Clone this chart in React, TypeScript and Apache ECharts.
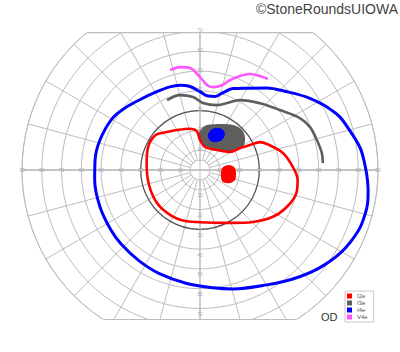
import React, { useEffect, useRef } from 'react';
import * as echarts from 'echarts';

// Goldmann-style visual field, right eye (OD). Points are [eccentricity (deg), meridian angle (deg, ccw from right)].
const HORIZ_RING_LABELS = [10, 20, 30, 40, 50, 60, 70, 80, 90];
const VERT_RING_LABELS = [10, 20, 30, 40, 50, 60, 70];
const REFERENCE_RINGS = [5, 30];
const FIELD_MAX = 90;
const FIELD_TOP = 69.5;
const FIELD_BOTTOM = 75.6;

const I2E_LINE = [
  [47.0, 1.8], [42.8, 11.6], [36.3, 21.2], [33.4, 25.0], [28.2, 26.5], [23.1, 28.8], [17.7, 30.9],
  [13.3, 49.6], [11.9, 77.8], [15.2, 90], [19.8, 95], [21.5, 104], [23.3, 119.9], [25.4, 131],
  [28.6, 142.0], [28.7, 156.2], [27.2, 172.6], [26.8, 190.9], [27.2, 209.9], [27.4, 227.2],
  [27.1, 248.2], [26.4, 270], [31.5, 301.9], [37.5, 315.5], [43.8, 327.3], [47.7, 336.9],
  [50.1, 346.7], [49.6, 354.2], [47.0, 1.8],
];
const I2E_BLIND_SPOT = [
  [14.9, 9.8], [17.7, 3.3], [18.3, 353.7], [18.4, 344.1], [16.5, 336.5], [13.1, 332.3], [11.0, 344.2], [11.2, 5.2],
];
const I3E_LINE = [
  [39.1, 115.2], [39.2, 104.9], [37.1, 95.4], [33.9, 87.5], [33.9, 75.3], [37.5, 66.1], [40.7, 60.3],
  [45.4, 48.1], [50.5, 36.9], [56.9, 27.5], [59.7, 21.3], [61.0, 14.4], [62.2, 7.9], [62.2, 3.3],
];
const I3E_SCOTOMA = [
  [21.8, 86.0], [23.55, 77.6], [25.8, 64.5], [28.2, 53.7], [29.3, 46.4], [29.0, 40.1], [27.4, 33.7],
  [24.6, 28.2], [21.1, 27.8], [15.9, 37.3], [13.0, 54.4], [12.4, 78.2], [14.7, 90], [18.7, 91.5],
];
const I4E_LINE = [
  [83.0, 3.5], [81.6, 8.2], [77.6, 16.3], [75.6, 20.8], [72.8, 24.8], [70.5, 27.9], [65.4, 34.3],
  [59.2, 41.9], [53.5, 50.8], [47.7, 60.2], [44.4, 68.0], [40.8, 73.4], [38.0, 78.4], [37.6, 83.8],
  [39.6, 90], [42.5, 96.8], [44.0, 103.2], [44.7, 110.0], [45.2, 118.9], [46.8, 130.6], [49.2, 140.4],
  [51.5, 150.0], [52.8, 163.3], [53.3, 174.6], [53.5, 185.4], [53.9, 200.3], [54.3, 213.7],
  [54.7, 223.0], [55.3, 236.0], [56.3, 248.6], [57.8, 263.4], [59.9, 276.3], [62.4, 285.5],
  [67.2, 300.2], [72.4, 310.4], [78.0, 320.5], [82.8, 330.2], [85.8, 339.2], [86.4, 344.8],
  [86.4, 348.9], [85.6, 353.2], [84.8, 356.6], [84.2, 359.0], [83.0, 3.5],
];
const I4E_SCOTOMA = [
  [22.5, 70.3], [23.5, 61.8], [22.1, 55.3], [18.8, 53.9], [15.6, 65.0], [17.2, 76.4], [20.3, 75.6],
];
const V4E_LINE = [
  [52.7, 106.7], [53.0, 101.0], [51.8, 95.6], [47.0, 90], [43.1, 85.3], [42.4, 81.1], [44.3, 75.5],
  [47.9, 71.5], [51.6, 67.0], [54.7, 62.5], [56.3, 57.5], [57.4, 53.3],
];
const LEGEND_NAMES = ['I2e', 'I3e', 'I4e', 'V4e'];

const CX = 200;
const CY = 170;
const R = 178;
const GRID = '#bdbdbd';
const RED = '#ff0000';
const GRAY = '#5e5e5e';
const BLUE = '#0000ff';
const MAGENTA = '#ff55ff';

const deg = (a: number) => (a * 180) / Math.PI;

function blobSeries(name: string, pts: number[][], color: string) {
  return {
    name,
    type: 'custom',
    coordinateSystem: 'polar',
    silent: true,
    z: 3,
    itemStyle: { color },
    data: [pts[0]],
    renderItem: (_p: any, api: any) => ({
      type: 'polygon',
      shape: { points: pts.map((p) => api.coord(p)), smooth: 0.35 },
      style: { fill: color },
    }),
  };
}

function lineSeries(name: string, data: number[][], color: string, width: number) {
  return {
    name,
    type: 'line',
    coordinateSystem: 'polar',
    data,
    symbol: 'none',
    showSymbol: false,
    smooth: 0.35,
    silent: true,
    z: 4,
    lineStyle: { color, width },
    itemStyle: { color },
  };
}

function gridLine(data: any[], color: string, width: number) {
  return {
    type: 'line',
    coordinateSystem: 'polar',
    data,
    symbol: 'none',
    showSymbol: false,
    silent: true,
    z: 2,
    lineStyle: { color, width },
  };
}

function labelSeries(data: number[][], offsetY: number) {
  return {
    type: 'scatter',
    coordinateSystem: 'polar',
    data,
    symbolSize: 0,
    silent: true,
    z: 5,
    itemStyle: { color: 'transparent' },
    label: {
      show: true,
      position: 'inside',
      offset: [0, offsetY],
      formatter: (p: any) => String(p.value[0]),
      fontSize: 5,
      color: '#9a9a9a',
      fontFamily: 'Liberation Sans, Arial, sans-serif',
    },
  };
}

export default function App() {
  const ref = useRef<HTMLDivElement>(null);
  useEffect(() => {
    if (!ref.current) return;
    const chart = echarts.init(ref.current, undefined, { renderer: 'svg' });
    const aTop = deg(Math.asin(FIELD_TOP / FIELD_MAX));
    const aBot = deg(Math.asin(FIELD_BOTTOM / FIELD_MAX));
    const yTop = CY - (R * FIELD_TOP) / FIELD_MAX;
    const yBot = CY + (R * FIELD_BOTTOM) / FIELD_MAX;

    chart.setOption({
      animation: false,
      backgroundColor: '#fff',
      title: [
        {
          text: '©StoneRoundsUIOWA',
          right: 2,
          top: 2,
          padding: 0,
          textStyle: { fontSize: 14, fontWeight: 'normal', color: '#444', fontFamily: 'Liberation Sans, Arial, sans-serif' },
        },
        {
          text: 'OD',
          left: 321,
          top: 311,
          padding: 0,
          textStyle: { fontSize: 11, fontWeight: 'normal', color: '#333', fontFamily: 'Liberation Sans, Arial, sans-serif' },
        },
      ],
      legend: {
        data: LEGEND_NAMES,
        orient: 'vertical',
        left: 345,
        top: 291,
        padding: [2, 6, 2, 2],
        itemGap: 1,
        itemWidth: 5,
        itemHeight: 5,
        icon: 'rect',
        selectedMode: false,
        borderColor: '#c8c8c8',
        borderWidth: 1,
        backgroundColor: '#fff',
        textStyle: { fontSize: 6, lineHeight: 6, color: '#555', fontFamily: 'Liberation Sans, Arial, sans-serif' },
      },
      polar: { center: [CX, CY], radius: R },
      angleAxis: {
        type: 'value',
        min: 0,
        max: 360,
        interval: 15,
        startAngle: 0,
        clockwise: false,
        axisLine: { show: true, lineStyle: { color: GRID, width: 1 } },
        axisTick: { show: false },
        axisLabel: { show: false },
        splitLine: { show: true, lineStyle: { color: GRID, width: 1 } },
      },
      radiusAxis: {
        type: 'value',
        min: 0,
        max: FIELD_MAX,
        interval: 10,
        axisLine: { show: false },
        axisTick: { show: false },
        axisLabel: { show: false },
        splitLine: { show: true, lineStyle: { color: GRID, width: 1 } },
      },
      graphic: [
        { type: 'rect', z: 1, shape: { x: 0, y: 0, width: 400, height: yTop }, style: { fill: '#fff' } },
        { type: 'rect', z: 1, shape: { x: 0, y: yBot, width: 400, height: 352 - yBot }, style: { fill: '#fff' } },
      ],
      series: [
        {
          type: 'custom',
          coordinateSystem: 'polar',
          silent: true,
          z: 2,
          data: REFERENCE_RINGS.map((r) => [r, 0]),
          renderItem: (params: any, api: any) => {
            const c = api.coord([0, 0]);
            const e = api.coord([api.value(0), 0]);
            const rad = Math.hypot(e[0] - c[0], e[1] - c[1]);
            const inner = params.dataIndex === 0;
            return {
              type: 'circle',
              shape: { cx: c[0], cy: c[1], r: rad },
              style: inner ? { fill: '#fff', stroke: GRID, lineWidth: 1 } : { fill: 'none', stroke: '#555', lineWidth: 1.2 },
            };
          },
        },
        gridLine([[FIELD_MAX, 0], [0, 0], [FIELD_MAX, 180]], '#c4c4c4', 2),
        gridLine([[FIELD_TOP, 90], [0, 0], [FIELD_BOTTOM, 270]], GRID, 1),
        gridLine([[FIELD_MAX, aTop], [FIELD_MAX, 180 - aTop]], GRID, 1.2),
        gridLine([[FIELD_MAX, 180 + aBot], [FIELD_MAX, 360 - aBot]], GRID, 1.2),
        labelSeries(HORIZ_RING_LABELS.flatMap((v) => [[v, 0], [v, 180]]), 0),
        labelSeries(VERT_RING_LABELS.map((v) => [v, 90]), -1.5),
        labelSeries(VERT_RING_LABELS.map((v) => [v, 270]), 5.5),
        blobSeries('I3e', I3E_SCOTOMA, GRAY),
        blobSeries('I4e', I4E_SCOTOMA, BLUE),
        blobSeries('I2e', I2E_BLIND_SPOT, RED),
        lineSeries('I2e', I2E_LINE, RED, 2.6),
        lineSeries('I3e', I3E_LINE, GRAY, 2.6),
        lineSeries('I4e', I4E_LINE, BLUE, 3),
        lineSeries('V4e', V4E_LINE, MAGENTA, 2.6),
      ],
    });
    return () => chart.dispose();
  }, []);
  return <div ref={ref} style={{ position: 'fixed', left: 0, top: 0, width: 400, height: 352 }} />;
}
